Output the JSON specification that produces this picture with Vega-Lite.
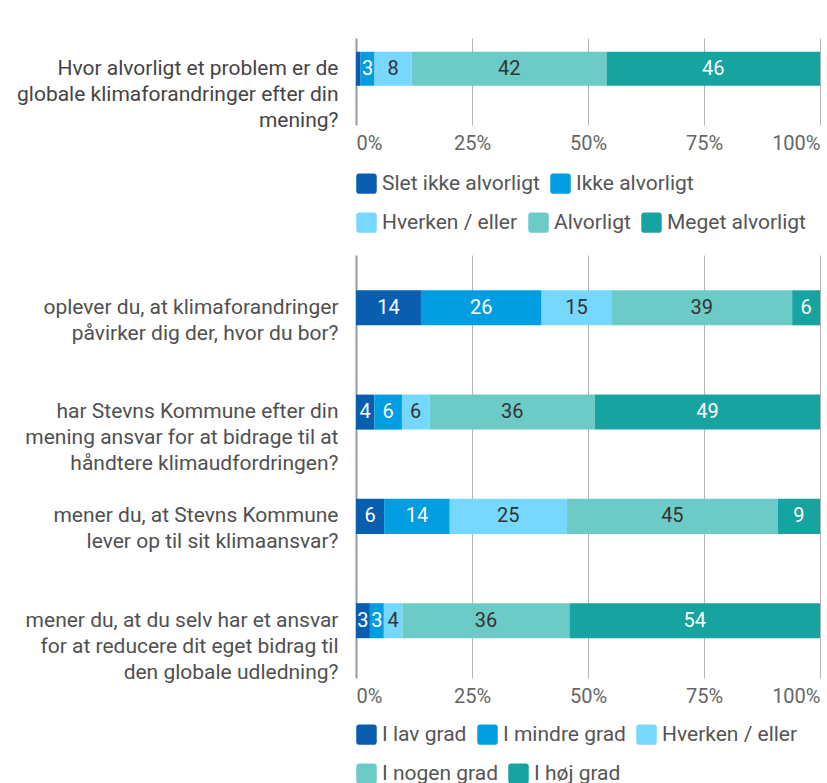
{
  "$schema": "https://vega.github.io/schema/vega-lite/v6.json",
  "padding": {"left": 16, "top": 38, "right": 5, "bottom": 5},
  "background": "white",
  "config": {
    "font": "Roboto",
    "view": {"stroke": null},
    "axis": {"labelFont": "Roboto"},
    "axisX": {"format": ".0%", "labelFlush": true, "labelFontSize": 20, "labelColor": "#666666", "labelPadding": 8, "ticks": false, "domain": false, "grid": true},
    "axisY": {"labelFontSize": 21, "labelColor": "#505050", "labelLineHeight": 26, "labelPadding": 18, "labelLimit": 400, "domain": false, "ticks": false, "grid": false},
    "legend": {
      "orient": "bottom",
      "direction": "horizontal",
      "symbolType": "M-1,-0.7Q-1,-1,-0.7,-1L0.7,-1Q1,-1,1,-0.7L1,0.7Q1,1,0.7,1L-0.7,1Q-1,1,-1,0.7Z",
      "symbolSize": 420,
      "symbolStrokeWidth": 0,
      "symbolOpacity": 1,
      "labelFont": "Roboto",
      "labelFontSize": 21,
      "labelColor": "#555555",
      "labelOffset": 5,
      "labelLimit": 300,
      "columnPadding": 10,
      "rowPadding": 17,
      "offset": 18,
      "padding": 0,
      "layout": {"bottom": {"anchor": "start", "direction": "vertical", "margin": 18}}
    }
  },
  "vconcat": [
    {
      "width": 464,
      "height": 87,
      "data": {"values": [
        {"q": "Hvor alvorligt et problem er de|globale klimaforandringer efter din|mening?", "cat": "Slet ikke alvorligt", "order": 1, "value": 1},
        {"q": "Hvor alvorligt et problem er de|globale klimaforandringer efter din|mening?", "cat": "Ikke alvorligt", "order": 2, "value": 3},
        {"q": "Hvor alvorligt et problem er de|globale klimaforandringer efter din|mening?", "cat": "Hverken / eller", "order": 3, "value": 8},
        {"q": "Hvor alvorligt et problem er de|globale klimaforandringer efter din|mening?", "cat": "Alvorligt", "order": 4, "value": 42},
        {"q": "Hvor alvorligt et problem er de|globale klimaforandringer efter din|mening?", "cat": "Meget alvorligt", "order": 5, "value": 46}
      ]},
      "transform": [
        {"stack": "value", "groupby": ["q"], "sort": [{"field": "order"}], "as": ["x0", "x1"], "offset": "normalize"},
        {"calculate": "(datum.x0 + datum.x1) / 2", "as": "xm"}
      ],
      "encoding": {
        "y": {"field": "q", "type": "nominal", "sort": null, "title": null,
          "scale": {"paddingInner": 0, "paddingOuter": 0.78, "align": 0.26},
          "axis": {"labelExpr": "split(datum.label, '|')", "labelColor": "#444444"}}
      },
      "layer": [
        {
          "transform": [{"filter": "datum.order <= 2"}],
          "mark": {"type": "bar"},
          "encoding": {
            "x": {"field": "x0", "type": "quantitative", "title": null, "scale": {"domain": [0, 1], "nice": false},
              "axis": {"values": [0, 0.25, 0.5, 0.75, 1], "gridColor": {"condition": {"test": "datum.value === 0", "value": "#999999"}, "value": "#b5b5b5"}, "gridWidth": {"condition": {"test": "datum.value === 0", "value": 2}, "value": 1}}},
            "x2": {"field": "x1"},
            "color": {"field": "cat", "type": "nominal", "title": null,
              "scale": {"domain": ["Slet ikke alvorligt", "Ikke alvorligt"], "range": ["#0a5eb0", "#009de0"]},
              "legend": {"title": null, "offset": 20}}
          }
        },
        {
          "transform": [{"filter": "datum.order > 2"}],
          "mark": {"type": "bar"},
          "encoding": {
            "x": {"field": "x0", "type": "quantitative", "title": null, "scale": {"domain": [0, 1], "nice": false},
              "axis": {"values": [0, 0.25, 0.5, 0.75, 1], "gridColor": {"condition": {"test": "datum.value === 0", "value": "#999999"}, "value": "#b5b5b5"}, "gridWidth": {"condition": {"test": "datum.value === 0", "value": 2}, "value": 1}}},
            "x2": {"field": "x1"},
            "color": {"field": "cat", "type": "nominal", "title": null,
              "scale": {"domain": ["Hverken / eller", "Alvorligt", "Meget alvorligt"], "range": ["#76d7ff", "#6ccbc7", "#17a3a0"]},
              "legend": {"title": null, "offset": 20}}
          }
        },
        {
          "transform": [{"filter": "datum.value > 1"}],
          "mark": {"type": "text", "fontSize": 20, "font": "Roboto", "align": "center", "baseline": "middle"},
          "encoding": {
            "x": {"field": "xm", "type": "quantitative", "title": null, "scale": {"domain": [0, 1], "nice": false},
              "axis": {"values": [0, 0.25, 0.5, 0.75, 1], "gridColor": {"condition": {"test": "datum.value === 0", "value": "#999999"}, "value": "#b5b5b5"}, "gridWidth": {"condition": {"test": "datum.value === 0", "value": 2}, "value": 1}}},
            "text": {"field": "value", "type": "quantitative"},
            "color": {"condition": {"test": "datum.order <= 2 || datum.order == 5", "value": "#ffffff"}, "value": "#333333"}
          }
        }
      ],
      "resolve": {"scale": {"color": "independent"}, "legend": {"color": "independent"}}
    },
    {
      "width": 464,
      "height": 423,
      "data": {"values": [
        {"q": "oplever du, at klimaforandringer|påvirker dig der, hvor du bor?", "cat": "I lav grad", "order": 1, "value": 14},
        {"q": "oplever du, at klimaforandringer|påvirker dig der, hvor du bor?", "cat": "I mindre grad", "order": 2, "value": 26},
        {"q": "oplever du, at klimaforandringer|påvirker dig der, hvor du bor?", "cat": "Hverken / eller", "order": 3, "value": 15},
        {"q": "oplever du, at klimaforandringer|påvirker dig der, hvor du bor?", "cat": "I nogen grad", "order": 4, "value": 39},
        {"q": "oplever du, at klimaforandringer|påvirker dig der, hvor du bor?", "cat": "I høj grad", "order": 5, "value": 6},
        {"q": "har Stevns Kommune efter din|mening ansvar for at bidrage til at|håndtere klimaudfordringen?", "cat": "I lav grad", "order": 1, "value": 4},
        {"q": "har Stevns Kommune efter din|mening ansvar for at bidrage til at|håndtere klimaudfordringen?", "cat": "I mindre grad", "order": 2, "value": 6},
        {"q": "har Stevns Kommune efter din|mening ansvar for at bidrage til at|håndtere klimaudfordringen?", "cat": "Hverken / eller", "order": 3, "value": 6},
        {"q": "har Stevns Kommune efter din|mening ansvar for at bidrage til at|håndtere klimaudfordringen?", "cat": "I nogen grad", "order": 4, "value": 36},
        {"q": "har Stevns Kommune efter din|mening ansvar for at bidrage til at|håndtere klimaudfordringen?", "cat": "I høj grad", "order": 5, "value": 49},
        {"q": "mener du, at Stevns Kommune|lever op til sit klimaansvar?", "cat": "I lav grad", "order": 1, "value": 6},
        {"q": "mener du, at Stevns Kommune|lever op til sit klimaansvar?", "cat": "I mindre grad", "order": 2, "value": 14},
        {"q": "mener du, at Stevns Kommune|lever op til sit klimaansvar?", "cat": "Hverken / eller", "order": 3, "value": 25},
        {"q": "mener du, at Stevns Kommune|lever op til sit klimaansvar?", "cat": "I nogen grad", "order": 4, "value": 45},
        {"q": "mener du, at Stevns Kommune|lever op til sit klimaansvar?", "cat": "I høj grad", "order": 5, "value": 9},
        {"q": "mener du, at du selv har et ansvar|for at reducere dit eget bidrag til|den globale udledning?", "cat": "I lav grad", "order": 1, "value": 3},
        {"q": "mener du, at du selv har et ansvar|for at reducere dit eget bidrag til|den globale udledning?", "cat": "I mindre grad", "order": 2, "value": 3},
        {"q": "mener du, at du selv har et ansvar|for at reducere dit eget bidrag til|den globale udledning?", "cat": "Hverken / eller", "order": 3, "value": 4},
        {"q": "mener du, at du selv har et ansvar|for at reducere dit eget bidrag til|den globale udledning?", "cat": "I nogen grad", "order": 4, "value": 36},
        {"q": "mener du, at du selv har et ansvar|for at reducere dit eget bidrag til|den globale udledning?", "cat": "I høj grad", "order": 5, "value": 54}
      ]},
      "transform": [
        {"stack": "value", "groupby": ["q"], "sort": [{"field": "order"}], "as": ["x0", "x1"], "offset": "normalize"},
        {"calculate": "(datum.x0 + datum.x1) / 2", "as": "xm"}
      ],
      "encoding": {
        "y": {"field": "q", "type": "nominal", "sort": null, "title": null,
          "scale": {"paddingInner": 0.664, "paddingOuter": 0.36, "align": 0.47},
          "axis": {"labelExpr": "split(datum.label, '|')"}}
      },
      "layer": [
        {
          "transform": [{"filter": "datum.order <= 3"}],
          "mark": {"type": "bar"},
          "encoding": {
            "x": {"field": "x0", "type": "quantitative", "title": null, "scale": {"domain": [0, 1], "nice": false},
              "axis": {"values": [0, 0.25, 0.5, 0.75, 1], "gridColor": {"condition": {"test": "datum.value === 0", "value": "#999999"}, "value": "#b5b5b5"}, "gridWidth": {"condition": {"test": "datum.value === 0", "value": 2}, "value": 1}}},
            "x2": {"field": "x1"},
            "color": {"field": "cat", "type": "nominal", "title": null,
              "scale": {"domain": ["I lav grad", "I mindre grad", "Hverken / eller"], "range": ["#0a5eb0", "#009de0", "#76d7ff"]},
              "legend": {"title": null}}
          }
        },
        {
          "transform": [{"filter": "datum.order > 3"}],
          "mark": {"type": "bar"},
          "encoding": {
            "x": {"field": "x0", "type": "quantitative", "title": null, "scale": {"domain": [0, 1], "nice": false},
              "axis": {"values": [0, 0.25, 0.5, 0.75, 1], "gridColor": {"condition": {"test": "datum.value === 0", "value": "#999999"}, "value": "#b5b5b5"}, "gridWidth": {"condition": {"test": "datum.value === 0", "value": 2}, "value": 1}}},
            "x2": {"field": "x1"},
            "color": {"field": "cat", "type": "nominal", "title": null,
              "scale": {"domain": ["I nogen grad", "I høj grad"], "range": ["#6ccbc7", "#17a3a0"]},
              "legend": {"title": null}}
          }
        },
        {
          "mark": {"type": "text", "fontSize": 20, "font": "Roboto", "align": "center", "baseline": "middle"},
          "encoding": {
            "x": {"field": "xm", "type": "quantitative", "title": null, "scale": {"domain": [0, 1], "nice": false},
              "axis": {"values": [0, 0.25, 0.5, 0.75, 1], "gridColor": {"condition": {"test": "datum.value === 0", "value": "#999999"}, "value": "#b5b5b5"}, "gridWidth": {"condition": {"test": "datum.value === 0", "value": 2}, "value": 1}}},
            "text": {"field": "value", "type": "quantitative"},
            "color": {"condition": {"test": "datum.order <= 2 || datum.order == 5", "value": "#ffffff"}, "value": "#333333"}
          }
        }
      ],
      "resolve": {"scale": {"color": "independent"}, "legend": {"color": "independent"}}
    }
  ],
  "spacing": 130,
  "bounds": "flush",
  "resolve": {"scale": {"color": "independent", "x": "independent", "y": "independent"}, "legend": {"color": "independent"}}
}
